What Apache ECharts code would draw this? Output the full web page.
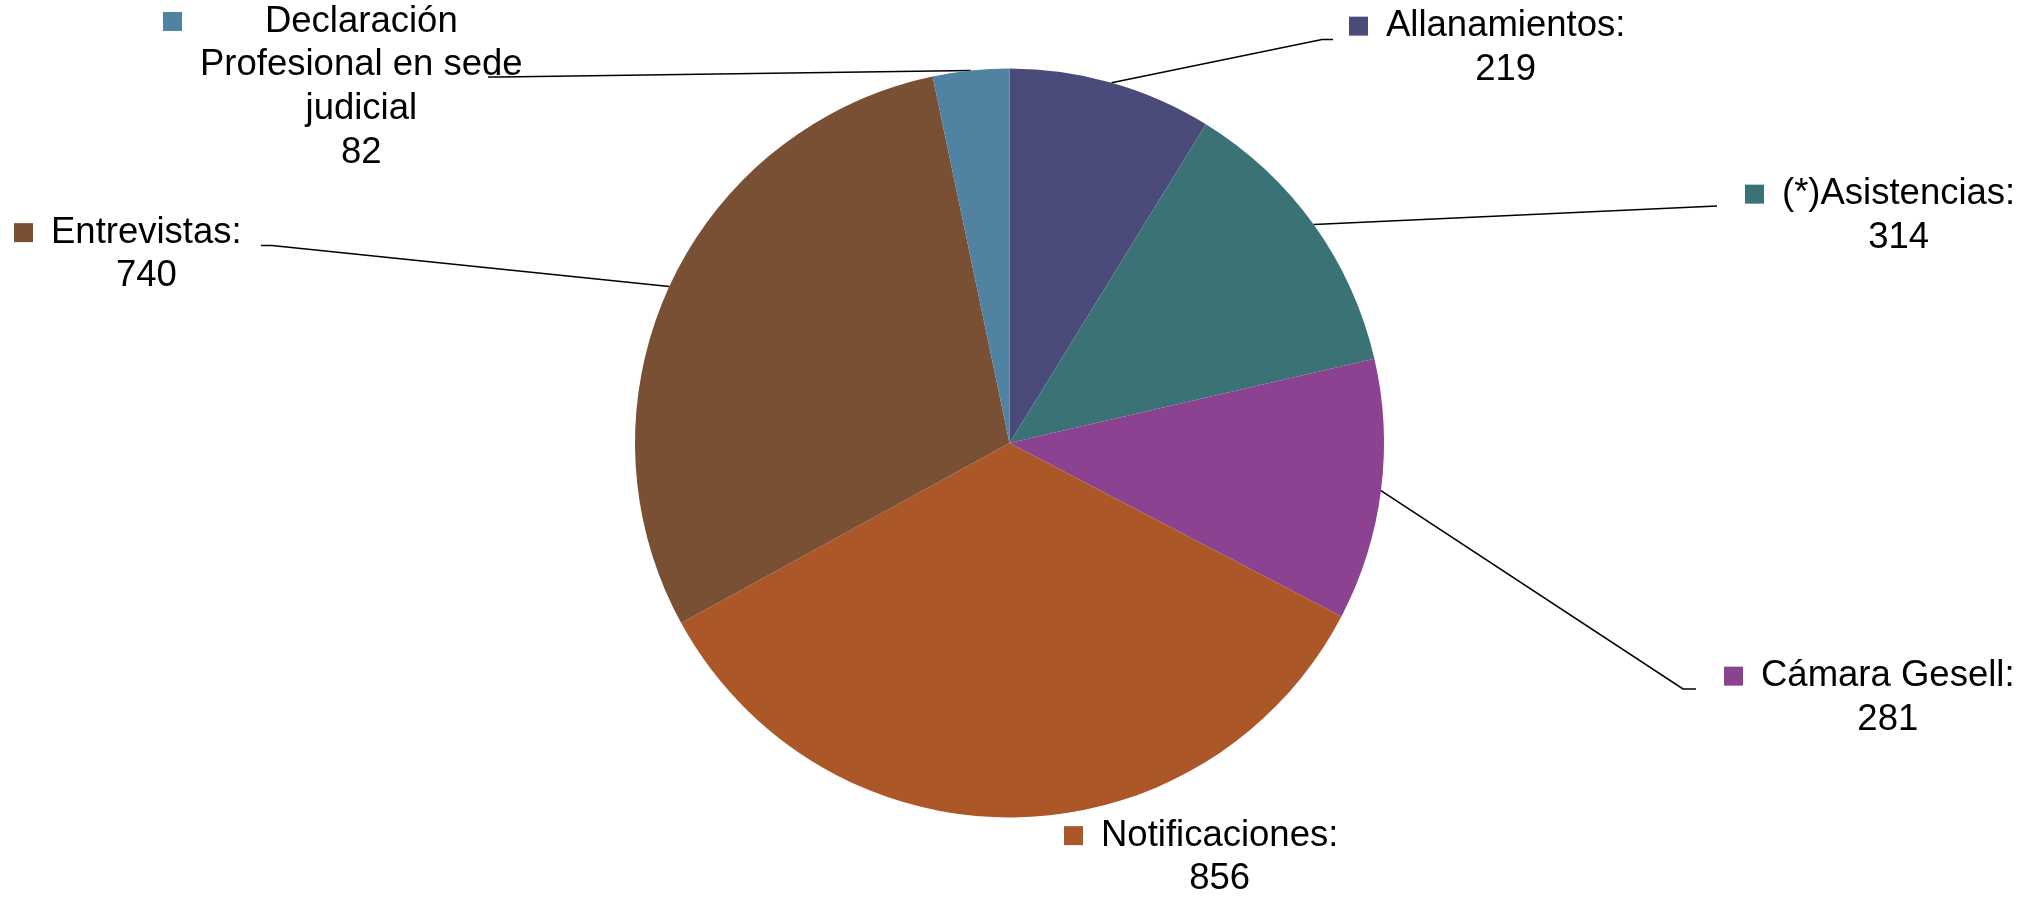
<!DOCTYPE html>
<html>
<head>
<meta charset="utf-8">
<script src="https://cdn.jsdelivr.net/npm/echarts@6/dist/echarts.min.js"></script>
<style>
html, body { margin: 0; padding: 0; background: #ffffff; }
#chart { width: 2026px; height: 898px; }
</style>
</head>
<body>
<div id="chart"></div>
<script>
// ---- data ----
const categories = [
  'Allanamientos:',
  '(*)Asistencias:',
  'Cámara Gesell:',
  'Notificaciones:',
  'Entrevistas:',
  'Declaración\nProfesional en sede\njudicial'
];
const values = [219, 314, 281, 856, 740, 82];
const colors = ['#4B4B7B', '#3A7276', '#8B4290', '#AB5728', '#7A5035', '#5082A2'];

// ---- label placement (style/layout only) ----
// [left x of block, vertical centre of block]
const labelBoxes = [
  [1349, 48], [1745, 216], [1724, 698], [1064, 857.5], [14, 254.5], [163, 87]
];
// [knee point, end point] of each leader line (null = no line)
const leaderEnds = [
  [[1322, 39.5], [1333, 39.5]],
  [[1706, 206.5], [1717, 206]],
  [[1683, 689], [1696, 689]],
  null,
  [[272, 245.5], [261, 245.5]],
  [[500, 77], [488, 77]]
];

const FONT = 'Liberation Sans, Arial, sans-serif';
function richFor(color) {
  return {
    m: { width: 19, height: 19, backgroundColor: color, align: 'left' },
    g: { width: 18, align: 'left' },
    s: { width: 37, align: 'left' },
    t: { fontSize: 36.5, fontFamily: FONT, color: '#000000', lineHeight: 43.7, align: 'center' }
  };
}
function labelText(name, value) {
  const lines = name.split('\n');
  const out = lines.map((l, i) => (i === 0 ? '{m|}{g|}' : '{s|}') + '{t|' + l + '}');
  out.push('{s|}{t|' + value + '}');
  return out.join('\n');
}

const seriesData = categories.map((c, i) => ({
  name: c,
  value: values[i],
  itemStyle: { color: colors[i] },
  label: { rich: richFor(colors[i]) },
  labelLine: { show: leaderEnds[i] !== null }
}));

const chart = echarts.init(document.getElementById('chart'), null, { renderer: 'canvas' });
chart.setOption({
  backgroundColor: '#ffffff',
  animation: false,
  series: [{
    type: 'pie',
    center: [1009.5, 443],
    radius: 374.5,
    startAngle: 90,
    clockwise: true,
    avoidLabelOverlap: false,
    data: seriesData,
    itemStyle: { borderWidth: 0 },
    emphasis: { disabled: true },
    label: {
      show: true,
      position: 'outside',
      fontFamily: FONT,
      formatter: p => labelText(p.name, p.value)
    },
    labelLine: {
      show: true,
      length: 15,
      length2: 15,
      smooth: false,
      lineStyle: { color: '#000000', width: 1.6 }
    },
    labelLayout: function (params) {
      const i = params.dataIndex;
      const box = labelBoxes[i];
      const res = { x: box[0], y: box[1], align: 'left', verticalAlign: 'middle', hideOverlap: false, moveOverlap: null };
      const le = leaderEnds[i];
      if (le && params.labelLinePoints) {
        res.labelLinePoints = [params.labelLinePoints[0], le[0], le[1]];
      }
      return res;
    }
  }]
});
</script>
</body>
</html>
